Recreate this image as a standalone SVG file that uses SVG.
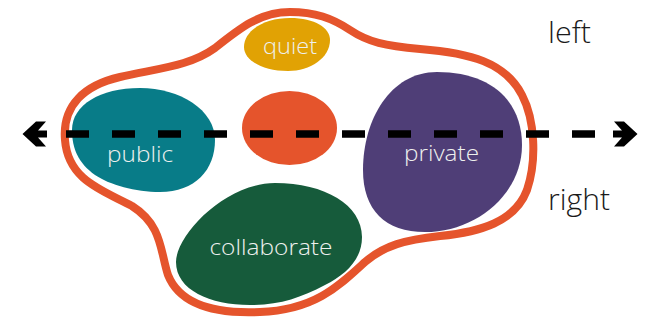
<svg xmlns="http://www.w3.org/2000/svg" width="661" height="323" viewBox="0 0 661 323">
  <style>
    .lbl { font-family: "Open Sans", Lato, "Noto Sans", sans-serif; font-weight: 300; text-anchor: middle; }
    .in { fill: #EEF0EE; font-size: 22px; }
    .out { fill: #1A1A1A; font-size: 30px; font-family: "Open Sans", Lato, "Noto Sans", sans-serif; font-weight: 300; }
    .dash { stroke: #000; stroke-width: 7.5; stroke-dasharray: 23 23; fill: none; }
    .head { fill: #000; }
  </style>
  <rect width="661" height="323" fill="#FFFFFF"/>
  <g id="boundary">
    <path d="M 290 12 C 315 12, 332 18, 350 30 C 368 42, 385 46, 420 49 C 470 53, 505 62, 522 95 C 535 120, 537 160, 527 190 C 515 222, 480 232, 440 236 C 405 240, 385 245, 365 262 C 340 285, 315 310, 260 312 C 215 314, 180 305, 168 275 C 160 250, 162 225, 132 206 C 102 190, 68 180, 65 140 C 62 105, 85 85, 120 77 C 160 68, 190 66, 215 48 C 240 28, 260 12, 290 12 Z" fill="none" stroke="#E5542C" stroke-width="8"/>
  </g>
  <g id="quiet">
    <path d="M 290 18 C 315 18, 330 28, 330 40 C 330 58, 310 71, 288 71 C 262 71, 244 60, 244 47 C 244 30, 265 18, 290 18 Z" fill="#E1A204"/>
    <text class="lbl in" x="290" y="54" textLength="54" lengthAdjust="spacingAndGlyphs">quiet</text>
  </g>
  <g id="public">
    <path d="M 140 88 C 180 88, 215 110, 215 140 C 215 170, 195 192, 160 192 C 135 192, 110 185, 95 175 C 78 163, 72 148, 72 130 C 72 105, 100 88, 140 88 Z" fill="#087C88"/>
    <text class="lbl in" x="140" y="162" textLength="66" lengthAdjust="spacingAndGlyphs">public</text>
  </g>
  <g id="center">
    <ellipse cx="289.5" cy="128" rx="47.5" ry="37" fill="#E5542C"/>
  </g>
  <g id="private">
    <path d="M 437 72 C 490 72, 522 100, 522 145 C 522 195, 475 232, 425 232 C 385 232, 363 210, 363 170 C 363 120, 390 72, 437 72 Z" fill="#4F3E77"/>
    <text class="lbl in" x="441.5" y="161" textLength="75" lengthAdjust="spacingAndGlyphs">private</text>
  </g>
  <g id="collaborate">
    <path d="M 275 183 C 325 183, 362 205, 362 237 C 362 260, 345 275, 325 285 C 300 298, 280 305, 250 305 C 210 305, 176 290, 176 262 C 176 235, 225 183, 275 183 Z" fill="#165B3B"/>
    <text class="lbl in" x="271" y="255" textLength="123" lengthAdjust="spacingAndGlyphs">collaborate</text>
  </g>
  <g id="connectors">
    <line class="dash" x1="66" y1="134" x2="595" y2="134"/>
    <polygon class="head" points="22.5,134 36,121.5 46,121.5 38,130.5 47,130.5 47,137.5 38,137.5 46,146.5 36,146.5"/>
    <polygon class="head" points="637.5,134 624,121.5 614,121.5 622,130.5 613,130.5 613,137.5 622,137.5 614,146.5 624,146.5"/>
  </g>
  <g id="labels">
    <text class="out" x="548" y="43" textLength="43" lengthAdjust="spacingAndGlyphs">left</text>
    <text class="out" x="548" y="210" textLength="62" lengthAdjust="spacingAndGlyphs">right</text>
  </g>
</svg>
